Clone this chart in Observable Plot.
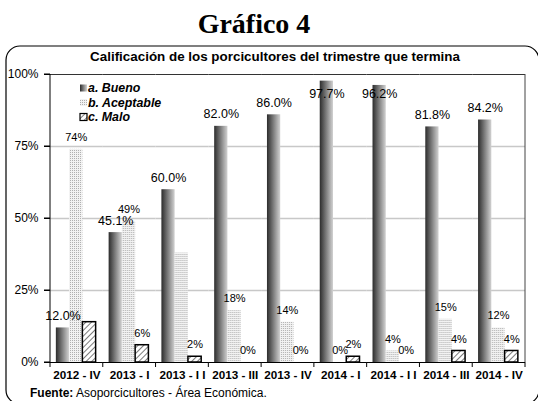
<!DOCTYPE html>
<html>
<head>
<meta charset="utf-8">
<script src="https://cdn.jsdelivr.net/npm/d3@7"></script>
<script src="https://cdn.jsdelivr.net/npm/@observablehq/plot@0.6"></script>
<style>
  html, body { margin: 0; padding: 0; background: #fff; }
  #chart svg { display: block; }
  #chart [aria-label^="fx-axis"] text { font-weight: bold; font-size: 11.7px; }
  #chart [aria-label^="y-axis"] text { font-size: 12px; }
</style>
</head>
<body>
<div id="chart"></div>
<script>
// ---- data ----
const categories = ["2012 - IV", "2013 - I", "2013 - I I", "2013 - III", "2013 - IV", "2014 - I", "2014 - I I", "2014 - III", "2014 - IV"];
const seriesNames = ["a. Bueno", "b. Aceptable", "c. Malo"];
const bueno = [12.0, 45.1, 60.0, 82.0, 86.0, 97.7, 96.2, 81.8, 84.2];
const aceptable = [74, 49, 38, 18, 14, 0, 4, 15, 12];
const malo = [14, 6, 2, 0, 0, 2, 0, 4, 4];
const buenoLabels = ["12.0%", "45.1%", "60.0%", "82.0%", "86.0%", "97.7%", "96.2%", "81.8%", "84.2%"];
const aceptableLabels = ["74%", "49%", null, "18%", "14%", "0%", "4%", "15%", "12%"];
const maloLabels = [null, "6%", "2%", "0%", "0%", "2%", "0%", "4%", "4%"];
const yTicks = [0, 25, 50, 75, 100];
const titleText = "Gráfico 4";
const subtitleText = "Calificación de los porcicultores del trimestre que termina";
const sourceBold = "Fuente:";
const sourceText = " Asoporcicultores - Área Económica.";

// ---- table ----
const values = [bueno, aceptable, malo];
const labels = [buenoLabels, aceptableLabels, maloLabels];
const rows = categories.flatMap((c, i) => seriesNames.map((s, j) => ({
  cat: c, series: s, value: values[j][i], label: labels[j][i]
})));
const rowsOf = j => rows.filter(d => d.series === seriesNames[j]);

const W = 538, H = 401, ML = 50, MR = 13, MT = 74, MB = 39;
const fills = ["url(#gBueno)", "url(#pDots)", "url(#pHatch)"];

const chart = Plot.plot({
  width: W, height: H,
  marginLeft: ML, marginRight: MR, marginTop: MT, marginBottom: MB,
  style: { fontFamily: "'Liberation Sans', Arial, sans-serif", fontSize: "11px", background: "#fff", color: "#000" },
  fx: { domain: categories, padding: 0, round: false, label: null, axis: "bottom", tickSize: 0, tickPadding: 8 },
  x: { domain: seriesNames, paddingInner: 0, paddingOuter: 0.49, align: 0.45, round: false, axis: null },
  y: { domain: [0, 100], ticks: yTicks, tickFormat: d => d + "%", tickSize: 6, tickPadding: 6, label: null },
  marks: [
    Plot.ruleY([25, 50, 75], { stroke: "#c8c8c8", strokeWidth: 1.6 }),
    Plot.barY(rowsOf(0), { fx: "cat", x: "series", y: "value", fill: fills[0] }),
    Plot.barY(rowsOf(1), { fx: "cat", x: "series", y: "value", fill: fills[1] }),
    Plot.barY(rowsOf(2).filter(d => d.value > 0), { fx: "cat", x: "series", y: "value", fill: fills[2], stroke: "#000", strokeWidth: 1.5 }),
    Plot.ruleY([0], { stroke: "#000", strokeWidth: 1 }),
    Plot.ruleY([100], { stroke: "#333", strokeWidth: 1 }),
    Plot.text(rowsOf(0), { fx: "cat", x: "series", y: d => Math.min(d.value, 89), text: "label", dy: -12, fontSize: 12.5, fill: "#000" }),
    Plot.text(rowsOf(1).filter(d => d.label), { fx: "cat", x: "series", y: "value", text: "label", dy: -12, fontSize: 11, fill: "#000" }),
    Plot.text(rowsOf(2).filter(d => d.label), { fx: "cat", x: "series", y: "value", text: "label", dy: -12, fontSize: 11, fill: "#000" })
  ]
});
document.getElementById("chart").appendChild(chart);

// ---- decorations ----
const svg = d3.select(chart);
const defs = svg.insert("defs", ":first-child");
const g = defs.append("linearGradient").attr("id", "gBueno").attr("x1", 0).attr("x2", 1).attr("y1", 0).attr("y2", 0);
g.append("stop").attr("offset", "0%").attr("stop-color", "#2c2c2c");
g.append("stop").attr("offset", "100%").attr("stop-color", "#d2d2d2");
const pd = defs.append("pattern").attr("id", "pDots").attr("patternUnits", "userSpaceOnUse").attr("width", 2).attr("height", 2);
pd.append("rect").attr("width", 2).attr("height", 2).attr("fill", "#f2f2f2");
pd.append("rect").attr("width", 1).attr("height", 1).attr("fill", "#b0b0b0");
const ph = defs.append("pattern").attr("id", "pHatch").attr("patternUnits", "userSpaceOnUse").attr("width", 4).attr("height", 4).attr("patternTransform", "rotate(45)");
ph.append("rect").attr("width", 4).attr("height", 4).attr("fill", "#fff");
ph.append("line").attr("x1", 0).attr("y1", 0).attr("x2", 0).attr("y2", 4).attr("stroke", "#333").attr("stroke-width", 1.3);

const y = chart.scale("y");
const yTop = y.apply(100), yBot = y.apply(0);
const xL = ML, xR = W - MR;
const step = (xR - xL) / categories.length;
const deco = svg.append("g").attr("text-anchor", "start");
// left axis line, y ticks and right frame
deco.append("line").attr("x1", xL).attr("x2", xL).attr("y1", yTop).attr("y2", yBot).attr("stroke", "#000");
yTicks.forEach(t => deco.append("line").attr("x1", xL - 6).attr("x2", xL).attr("y1", y.apply(t)).attr("y2", y.apply(t)).attr("stroke", "#000"));
deco.append("line").attr("x1", xR).attr("x2", xR).attr("y1", yTop).attr("y2", yBot).attr("stroke", "#444");
// category boundary ticks
for (let i = 0; i <= categories.length; i++) {
  deco.append("line").attr("x1", xL + i * step).attr("x2", xL + i * step).attr("y1", yBot).attr("y2", yBot + 5).attr("stroke", "#000");
}
// outer rounded border
deco.append("rect").attr("x", 6).attr("y", 46).attr("width", 533).attr("height", 358).attr("rx", 14)
  .attr("fill", "none").attr("stroke", "#000").attr("stroke-width", 1.2);
// title & subtitle
deco.append("text").text(titleText).attr("x", 254).attr("y", 33).attr("text-anchor", "middle")
  .attr("font-family", "'Liberation Serif', 'Times New Roman', serif").attr("font-weight", "bold").attr("font-size", 28);
deco.append("text").text(subtitleText).attr("x", 275).attr("y", 61).attr("text-anchor", "middle")
  .attr("font-weight", "bold").attr("font-size", 13.4);
// source
const src = deco.append("text").attr("x", 30).attr("y", 397).attr("font-size", 12).attr("text-anchor", "start");
src.append("tspan").attr("font-weight", "bold").text(sourceBold);
src.append("tspan").text(sourceText);
// legend
const lg = deco.append("g").attr("font-weight", "bold").attr("font-style", "italic").attr("font-size", 12.4).attr("text-anchor", "start");
seriesNames.forEach((s, j) => {
  const cy = 88 + j * 14.5;
  lg.append("rect").attr("x", 80).attr("y", cy - 3.5).attr("width", 7).attr("height", 7)
    .attr("fill", fills[j]).attr("stroke", j === 2 ? "#000" : "none").attr("stroke-width", 1.2);
  lg.append("text").attr("x", 88).attr("y", cy).attr("dy", "0.35em").text(s);
});
</script>
</body>
</html>
